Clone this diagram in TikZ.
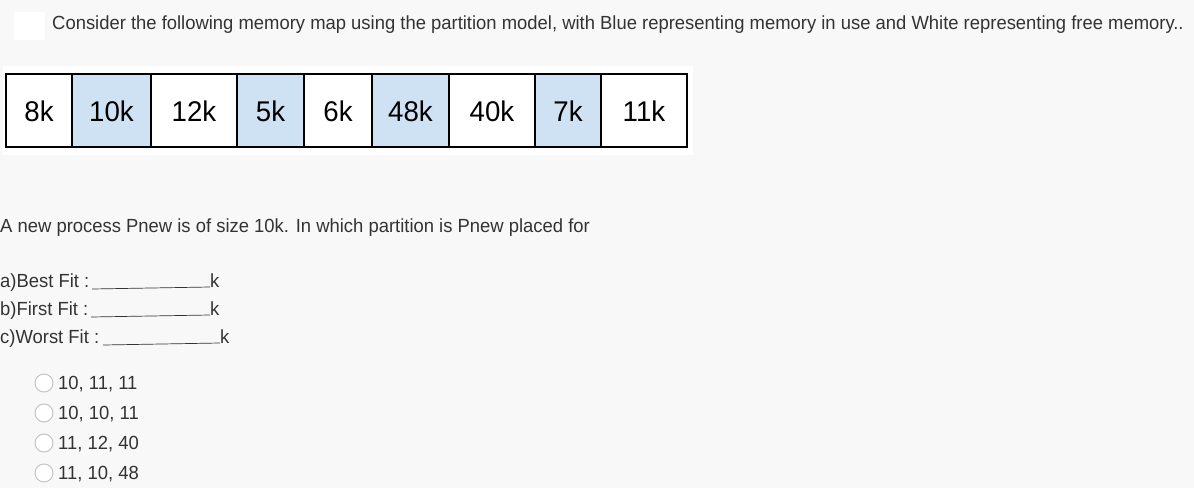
\documentclass[tikz,border=0pt]{standalone}
\usepackage{fontspec}
\setmainfont{Liberation Sans}
\newfontfamily\narrowfont[FakeStretch=0.97]{Liberation Sans}
\definecolor{pagegray}{HTML}{F8F8F8}
\definecolor{inkgray}{HTML}{333333}
\definecolor{usedblue}{HTML}{CFE2F3}
\definecolor{radiogray}{HTML}{C4C4C4}
\tikzset{
  plaintext/.style={inner sep=0pt, anchor=base west, text=inkgray, font=\narrowfont\fontsize{19}{21}\selectfont},
  celltext/.style={inner sep=0pt, text=black, font=\narrowfont\fontsize{28.5}{31}\selectfont},
  cellbox/.style={draw=black, line width=1.1pt},
  radio/.style={circle, draw=radiogray, fill=white, line width=1pt, minimum size=18pt, inner sep=0pt}
}

\begin{document}
\begin{tikzpicture}[x=1pt, y=-1pt]
		%%%%% START %%%%%
		
		\fill[pagegray] (0, 0) rectangle (1194, 488);
		\useasboundingbox (0, 0) rectangle (1194, 488);
		
		\fill[white] (14, 12) rectangle (45, 40);
		\node[plaintext] (intro) at (52, 29) {Consider the following memory map using the partition model, with Blue representing memory in use and White representing free memory..};
		
		\fill[white] (3, 66) rectangle (693, 155);
		\foreach \xa/\xb/\size/\shade [count=\i] in {6/72/8k/white, 72/151/10k/usedblue, 151/237/12k/white, 237/304/5k/usedblue, 304/372/6k/white, 372/449/48k/usedblue, 449/535/40k/white, 535/601/7k/usedblue, 601/687/11k/white}
		{
			\draw[cellbox, fill=\shade] (\xa, 74) rectangle (\xb, 147);
			\node[celltext] (part\i) at ({(\xa+\xb)/2}, 111) {\size};
		}
		
		\node[plaintext] (question) at (0, 232) {A new process Pnew is of size 10k. In which partition is Pnew placed for};
		
		\node[plaintext] (best) at (0, 287) {a)Best Fit :};
		\node[plaintext] (bestk) at (210, 287) {k};
		\draw[inkgray, line width=0.7pt] (92, 289) -- (bestk.base west);
		
		\node[plaintext] (first) at (0, 315) {b)First Fit :};
		\node[plaintext] (firstk) at (210, 315) {k};
		\draw[inkgray, line width=0.7pt] (91, 317) -- (firstk.base west);
		
		\node[plaintext] (worst) at (0, 343) {c)Worst Fit :};
		\node[plaintext] (worstk) at (220, 343) {k};
		\draw[inkgray, line width=0.7pt] (103, 345) -- (worstk.base west);
		
		\node[radio] (optA) at (44, 383) {};
		\node[plaintext] at (58, 389) {10, 11, 11};
		\node[radio] (optB) at (44, 413) {};
		\node[plaintext] at (58, 419) {10, 10, 11};
		\node[radio] (optC) at (44, 443) {};
		\node[plaintext] at (58, 449) {11, 12, 40};
		\node[radio] (optD) at (44, 473) {};
		\node[plaintext] at (58, 479) {11, 10, 48};
		
		%%%%% END %%%%%
	\end{tikzpicture}
\end{document}
